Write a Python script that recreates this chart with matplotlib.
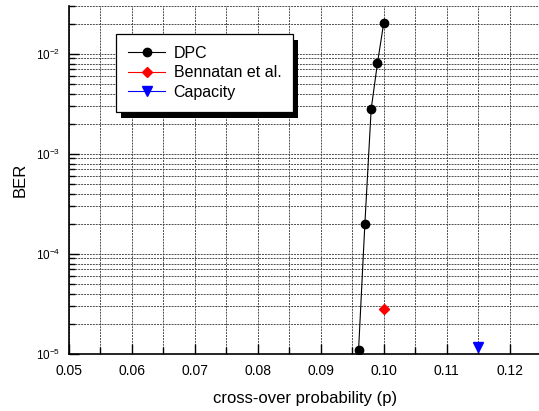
import matplotlib
matplotlib.use('Agg')
import matplotlib.pyplot as plt
import matplotlib.ticker as ticker
from matplotlib.patches import Rectangle

plt.rcParams['font.family'] = ['Liberation Sans', 'DejaVu Sans']
plt.rcParams['mathtext.fontset'] = 'custom'
plt.rcParams['mathtext.rm'] = 'Liberation Sans'
plt.rcParams['mathtext.it'] = 'Liberation Sans'

# data
dpc_p = [0.096, 0.097, 0.098, 0.099, 0.100]
dpc_ber = [1.1e-5, 2.0e-4, 2.8e-3, 8.1e-3, 2.05e-2]
benn_p = [0.100]
benn_ber = [2.8e-5]
cap_p = [0.115]
cap_ber = [1.17e-5]

fig = plt.figure(figsize=(5.39, 4.11), dpi=100)
ax = fig.add_axes([0.128, 0.139, 0.876, 0.846])

ax.plot(dpc_p, dpc_ber, color='k', marker='o', markersize=6, lw=0.8, label='DPC', zorder=3)
ax.plot(benn_p, benn_ber, color='r', marker='D', markersize=5.5, lw=0.8, label='Bennatan et al.', zorder=3)
ax.plot(cap_p, cap_ber, color='b', marker='v', markersize=7, lw=0.8, label='Capacity', zorder=3)

ax.set_yscale('log')
ax.set_xlim(0.05, 0.125)
ax.set_ylim(1e-5, 3e-2)

ax.xaxis.set_major_locator(ticker.MultipleLocator(0.01))
ax.xaxis.set_minor_locator(ticker.MultipleLocator(0.005))
ax.xaxis.set_major_formatter(ticker.FormatStrFormatter('%.2f'))
ax.yaxis.set_major_locator(ticker.LogLocator(base=10))
ax.yaxis.set_minor_locator(ticker.LogLocator(base=10, subs=range(2, 10)))
ax.yaxis.set_minor_formatter(ticker.NullFormatter())

ax.tick_params(which='both', direction='in')
ax.tick_params(which='major', length=7, width=1)
ax.tick_params(which='minor', length=4, width=1)
ax.tick_params(axis='x', which='minor', length=5)
ax.tick_params(axis='x', labelsize=10, pad=7)
ax.tick_params(axis='y', labelsize=8.5, pad=6)

ax.grid(which='both', color='0.3', linestyle=(0, (2, 1)), linewidth=0.7)

for s in ['top', 'right']:
    ax.spines[s].set_visible(False)
for s in ['left', 'bottom']:
    ax.spines[s].set_linewidth(1.2)

ax.set_xlabel('cross-over probability (p)', fontsize=12, labelpad=10)
ax.set_ylabel('BER', fontsize=12, labelpad=6)

leg = ax.legend(loc='upper left', bbox_to_anchor=(0.1, 0.92), borderaxespad=0,
                fontsize=11.5, fancybox=False, framealpha=1, edgecolor='k',
                handlelength=2.3, handletextpad=0.55, labelspacing=0.28,
                borderpad=0.75)
leg.get_frame().set_linewidth(0.9)

# heavy black drop shadow behind the legend
fig.canvas.draw()
bb = leg.get_window_extent()
shadow = Rectangle((bb.x0 + 5, bb.y0 - 6), bb.width, bb.height, transform=None,
                   facecolor='k', edgecolor='none', zorder=4.9)
ax.add_artist(shadow)

fig.savefig('out.png', dpi=100)
